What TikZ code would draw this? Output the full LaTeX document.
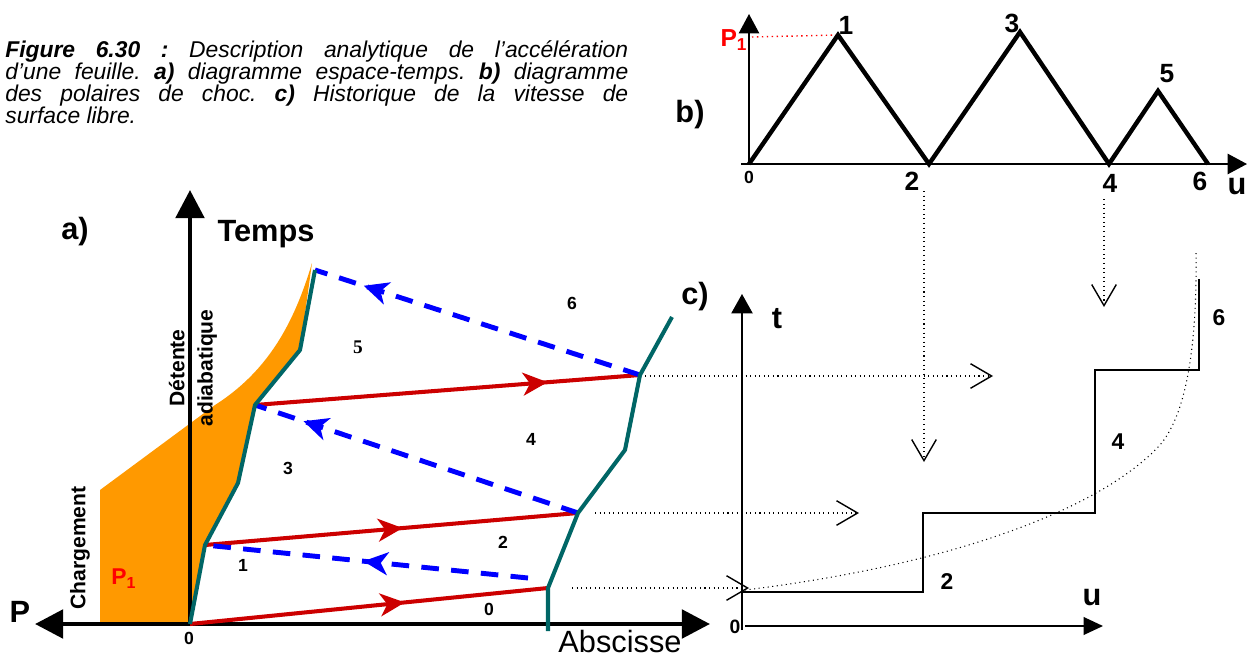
\documentclass[tikz,border=0pt]{standalone}
\usepackage{fontspec}
\setmainfont{Liberation Sans}
\newfontfamily\serifnum{Liberation Serif}
\usetikzlibrary{arrows.meta, decorations.markings}

\definecolor{chargeorange}{RGB}{255,153,0}
\definecolor{sheetteal}{RGB}{0,102,102}
\definecolor{shockred}{RGB}{204,0,0}
\definecolor{releaseblue}{RGB}{0,0,255}

\tikzset{
  sheet/.style={draw=sheetteal, line width=2.3pt, line join=round},
  shock/.style={draw=shockred, line width=2.3pt,
    decoration={markings, mark=at position #1 with {\arrow{Stealth[length=14pt,width=13pt,inset=4pt]}}},
    postaction={decorate}},
  release/.style={draw=releaseblue, line width=2.8pt, dash pattern=on 10pt off 7pt,
    decoration={markings, mark=at position #1 with {\arrow{Stealth[length=14pt,width=13pt,inset=4pt]}}},
    postaction={decorate}},
  proj/.style={dotted, line width=0.6pt, -{Straight Barb[length=12pt,width=14pt,line width=0.8pt]}},
  bigaxis/.style={line width=2.8pt},
  thinaxis/.style={line width=1.1pt},
  region/.style={inner sep=0pt, font=\fontsize{10}{12}\selectfont\bfseries},
  bnum/.style={inner sep=0pt, font=\fontsize{15}{18}\selectfont\bfseries},
  cnum/.style={inner sep=0pt, font=\fontsize{13}{15}\selectfont\bfseries},
  biglbl/.style={inner sep=0pt, font=\fontsize{17.5}{20}\selectfont\bfseries},
  sidelbl/.style={inner sep=0pt, rotate=90, align=center, font=\fontsize{12}{16}\selectfont\bfseries}
}

\begin{document}
\begin{tikzpicture}[x=0.02cm, y=-0.02cm]
  \useasboundingbox (0,0) rectangle (1252,659);

  % Caption
  \node[anchor=north west, inner sep=0pt, text width=12.46cm, align=justify,
        font=\fontsize{13}{12.6}\selectfont\itshape\frenchspacing] (caption) at (5,40)
    {\textbf{Figure 6.30 :} Description analytique de l’accélération\linebreak
     d’une feuille. \textbf{a)} diagramme espace-temps. \textbf{b)} diagramme\linebreak
     des polaires de choc. \textbf{c)} Historique de la vitesse de\linebreak
     surface libre.};

  % a) space-time diagram: points of the two free surfaces
  \coordinate (O)  at (190,624);
  \coordinate (L1) at (205,545);
  \coordinate (L2) at (238,483);
  \coordinate (L3) at (255,405);
  \coordinate (L4) at (300,350);
  \coordinate (L5) at (315,270);
  \coordinate (R0) at (548,631);
  \coordinate (R1) at (548,588);
  \coordinate (R2) at (578,513);
  \coordinate (R3) at (625,450);
  \coordinate (R4) at (640,375);
  \coordinate (R5) at (672,317);
  \coordinate (B1) at (528,578);

  % loading zone
  \fill[chargeorange] (100,490) -- (100,624) -- (O) -- (L1) -- (L2) -- (L3) -- (L4)
    -- (312,263) .. controls (295,320) and (270,370) .. (215,405) -- cycle;

  % axes
  \coordinate (tA) at (190,190);
  \coordinate (pA) at (35,624);
  \coordinate (xA) at (710,624);
  \draw[bigaxis, -{Triangle[length=16pt,width=16pt]}] (O) -- (tA);
  \draw[bigaxis, {Triangle[length=16pt,width=16pt]}-{Triangle[length=16pt,width=16pt]}] (pA) -- (xA);

  % shocks and releases
  \draw[shock=0.6]  (O)  -- (R1);
  \draw[shock=0.53] (L1) -- (R2);
  \draw[shock=0.76] (L3) -- (R4);
  \draw[release=0.51] (B1) -- (L1);
  \draw[release=0.85] (R2) -- (L3);
  \draw[release=0.85] (R4) -- (L5);

  % sheet surfaces
  \draw[sheet] (O) -- (L1) -- (L2) -- (L3) -- (L4) -- (L5);
  \draw[sheet] (R0) -- (R1) -- (R2) -- (R3) -- (R4) -- (R5);

  % labels of a)
  \node[biglbl] (alab) at (75,232) {a)};
  \node[biglbl] (temps) at (266,234) {Temps};
  \node[biglbl] (plab) at (20,612) {P};
  \node[inner sep=0pt, font=\fontsize{17.5}{20}\selectfont] (absc) at (620,642) {Abscisse};
  \node[region] (zero) at (189,638) {0};
  \node[sidelbl] (detente) at (193,368) {Détente\\adiabatique};
  \node[sidelbl] (charge) at (80,548) {Chargement};
  \node[inner sep=0pt, text=red, font=\fontsize{13}{15}\selectfont\bfseries] (p1a) at (124,579) {P$_{\mathbf{1}}$};
  \node[region] (z0) at (489,609) {0};
  \node[region] (z1) at (243,565) {1};
  \node[region] (z2) at (503,542) {2};
  \node[region] (z3) at (288,468) {3};
  \node[region] (z4) at (531,439) {4};
  \node[region, font=\fontsize{11}{12}\selectfont\serifnum\bfseries] (z5) at (358,347) {5};
  \node[region] (z6) at (572,303) {6};

  % b) shock polars
  \coordinate (b0) at (749,164);
  \coordinate (b1) at (838,35);
  \coordinate (b2) at (929,164);
  \coordinate (b3) at (1020,32);
  \coordinate (b4) at (1109,164);
  \coordinate (b5) at (1158,91);
  \coordinate (b6) at (1208,164);
  \coordinate (bP) at (749,14);
  \coordinate (bU) at (1247,164);
  \coordinate (bS) at (741,164);
  \coordinate (bQ) at (752,37);
  \draw[thinaxis, -{Triangle[length=11pt,width=11.5pt]}] (b0) -- (bP);
  \draw[thinaxis, -{Triangle[length=11pt,width=11.5pt]}] (bS) -- (bU);
  \draw[red, dotted, line width=0.8pt] (bQ) -- (b1);
  \draw[line width=2.5pt] (b0) -- (b1) -- (b2) -- (b3) -- (b4) -- (b5) -- (b6);

  \node[biglbl] (blab) at (690,115) {b)};
  \node[inner sep=0pt, text=red, font=\fontsize{14}{16}\selectfont\bfseries] (p1b) at (734,40) {P$_{\mathbf{1}}$};
  \node[bnum] (n1) at (846,25) {1};
  \node[bnum] (n3) at (1012,23) {3};
  \node[bnum] (n5) at (1167,74) {5};
  \node[bnum] (n2) at (912,181) {2};
  \node[bnum] (n4) at (1110,183) {4};
  \node[bnum] (n6) at (1200,181) {6};
  \node[region] (n0) at (749,177) {0};
  \node[biglbl] (ulab) at (1237,187) {u};

  % c) free surface velocity
  \coordinate (c0) at (742,630);
  \coordinate (cT) at (742,294);
  \coordinate (cS) at (745,626);
  \coordinate (cU) at (1103,626);
  \draw[thinaxis, -{Triangle[length=11pt,width=12pt]}] (c0) -- (cT);
  \draw[thinaxis, -{Triangle[length=11pt,width=10pt]}] (cS) -- (cU);
  \draw[line width=1pt] (742,592) -- (923,592) -- (923,513) -- (1095,513)
    -- (1095,370) -- (1199,370) -- (1199,279);
  \draw[dotted, line width=0.6pt] (745,590) .. controls (950,565) and (1100,510) .. (1160,445)
    .. controls (1190,410) and (1197,330) .. (1196,252);

  % projections
  \coordinate (h1s) at (572,588);
  \coordinate (h1e) at (749,588);
  \coordinate (h2s) at (595,513);
  \coordinate (h2e) at (859,513);
  \coordinate (h3s) at (645,376);
  \coordinate (h3e) at (993,376);
  \coordinate (v2s) at (924,191);
  \coordinate (v2e) at (924,462);
  \coordinate (v4s) at (1104,199);
  \coordinate (v4e) at (1104,307);
  \draw[proj] (h1s) -- (h1e);
  \draw[proj] (h2s) -- (h2e);
  \draw[proj] (h3s) -- (h3e);
  \draw[proj] (v2s) -- (v2e);
  \draw[proj] (v4s) -- (v4e);

  \node[biglbl] (clab) at (695,297) {c)};
  \node[biglbl] (tlab) at (777,319) {t};
  \node[biglbl] (ulab2) at (1092,598) {u};
  \node[inner sep=0pt, font=\fontsize{11}{13}\selectfont\bfseries] (c0lab) at (735,627) {0};
  \node[cnum] (s2) at (947,582) {2};
  \node[cnum] (s4) at (1118,442) {4};
  \node[cnum] (s6) at (1219,318) {6};
\end{tikzpicture}
\end{document}
